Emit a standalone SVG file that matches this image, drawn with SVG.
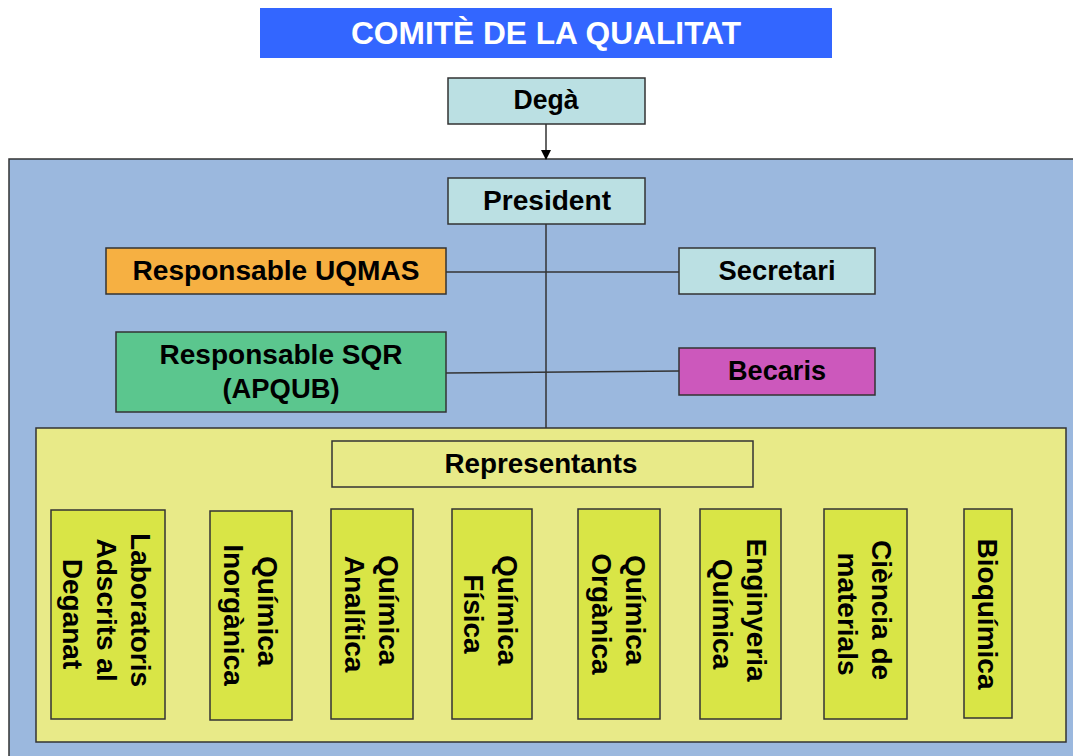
<svg xmlns="http://www.w3.org/2000/svg" width="1073" height="756" viewBox="0 0 1073 756">
  <defs>
    <marker id="arrow" markerWidth="10" markerHeight="10" refX="9" refY="5" orient="auto" markerUnits="userSpaceOnUse">
      <path d="M0,0 L10,5 L0,10 Z" fill="#000"/>
    </marker>
    <style>
      text { font-family: "Liberation Sans", Arial, sans-serif; font-weight: bold; fill: #000; text-anchor: middle; }
      .h { font-size: 27px; }
      .v { font-size: 28px; }
      .title { font-size: 31px; fill: #fff; }
      .box { stroke: #333; stroke-width: 1.5; }
      .cyan { fill: #BBE0E3; }
      .sub { fill: #D9E546; }
      .conn { stroke: #333; stroke-width: 1.5; fill: none; }
    </style>
  </defs>
  <rect width="1073" height="756" fill="#fff"/>

  <g id="title">
    <rect x="260" y="8" width="572" height="50" fill="#3366FF"/>
    <text class="title" x="546" y="44" textLength="390" lengthAdjust="spacingAndGlyphs">COMITÈ DE LA QUALITAT</text>
  </g>

  <g id="comite-panel">
    <rect x="9" y="159" width="1080" height="610" fill="#9BB8DE" class="box"/>
  </g>

  <g id="representants-panel">
    <rect x="36" y="428" width="1030" height="314" fill="#E8EA88" class="box"/>
  </g>

  <g id="connectors">
    <line class="conn" x1="546" y1="124" x2="546" y2="159" marker-end="url(#arrow)" stroke="#000"/>
    <line class="conn" x1="546" y1="224" x2="546" y2="428"/>
    <line class="conn" x1="446" y1="272" x2="679" y2="272"/>
    <line class="conn" x1="446" y1="373" x2="679" y2="371"/>
  </g>

  <g id="dega">
    <rect x="448" y="78" width="197" height="46" class="box cyan"/>
    <text class="h" x="546" y="109" textLength="65" lengthAdjust="spacingAndGlyphs">Degà</text>
  </g>

  <g id="president">
    <rect x="448" y="178" width="197" height="46" class="box cyan"/>
    <text class="h" x="547" y="210" textLength="128" lengthAdjust="spacingAndGlyphs">President</text>
  </g>

  <g id="uqmas">
    <rect x="106" y="248" width="340" height="46" class="box" fill="#F6B042"/>
    <text class="h" x="276" y="280" textLength="287" lengthAdjust="spacingAndGlyphs">Responsable UQMAS</text>
  </g>

  <g id="secretari">
    <rect x="679" y="248" width="196" height="46" class="box cyan"/>
    <text class="h" x="777" y="280" textLength="117" lengthAdjust="spacingAndGlyphs">Secretari</text>
  </g>

  <g id="sqr">
    <rect x="116" y="332" width="330" height="80" class="box" fill="#5BC68E"/>
    <text class="h" x="281" y="364" textLength="243" lengthAdjust="spacingAndGlyphs">Responsable SQR</text>
    <text class="h" x="281" y="398" textLength="117" lengthAdjust="spacingAndGlyphs">(APQUB)</text>
  </g>

  <g id="becaris">
    <rect x="679" y="348" width="196" height="47" class="box" fill="#CC58BC"/>
    <text class="h" x="777" y="380" textLength="98" lengthAdjust="spacingAndGlyphs">Becaris</text>
  </g>

  <g id="representants">
    <rect x="332" y="441" width="421" height="46" fill="#E8EA88" class="box"/>
    <text class="h" x="541" y="473" textLength="193" lengthAdjust="spacingAndGlyphs">Representants</text>
  </g>

  <g id="laboratoris">
    <rect x="51" y="510" width="114" height="209" class="box sub"/>
    <text class="v" transform="translate(131,614) rotate(90)">
      <tspan x="0" y="0">Laboratoris</tspan>
      <tspan x="0" y="34">Adscrits al</tspan>
      <tspan x="0" y="68">Deganat</tspan>
    </text>
  </g>

  <g id="inorganica">
    <rect x="210" y="511" width="82" height="209" class="box sub"/>
    <text class="v" transform="translate(258,615) rotate(90)">
      <tspan x="0" y="0">Química</tspan>
      <tspan x="0" y="34">Inorgànica</tspan>
    </text>
  </g>

  <g id="analitica">
    <rect x="331" y="509" width="82" height="210" class="box sub"/>
    <text class="v" transform="translate(379,614) rotate(90)">
      <tspan x="0" y="0">Química</tspan>
      <tspan x="0" y="34">Analítica</tspan>
    </text>
  </g>

  <g id="fisica">
    <rect x="452" y="509" width="80" height="210" class="box sub"/>
    <text class="v" transform="translate(498,614) rotate(90)">
      <tspan x="0" y="0">Química</tspan>
      <tspan x="0" y="34">Física</tspan>
    </text>
  </g>

  <g id="organica">
    <rect x="578" y="509" width="82" height="210" class="box sub"/>
    <text class="v" transform="translate(626,614) rotate(90)">
      <tspan x="0" y="0">Química</tspan>
      <tspan x="0" y="34">Orgànica</tspan>
    </text>
  </g>

  <g id="enginyeria">
    <rect x="700" y="509" width="81" height="210" class="box sub"/>
    <text class="v" transform="translate(747,614) rotate(90)">
      <tspan x="0" y="0">Enginyeria</tspan>
      <tspan x="0" y="34">Química</tspan>
    </text>
  </g>

  <g id="ciencia">
    <rect x="824" y="509" width="83" height="210" class="box sub"/>
    <text class="v" transform="translate(872,614) rotate(90)">
      <tspan x="0" y="0">Ciència de</tspan>
      <tspan x="0" y="34">materials</tspan>
    </text>
  </g>

  <g id="bioquimica">
    <rect x="964" y="509" width="48" height="209" class="box sub"/>
    <text class="v" transform="translate(978,614) rotate(90)">
      <tspan x="0" y="0">Bioquímica</tspan>
    </text>
  </g>
</svg>
